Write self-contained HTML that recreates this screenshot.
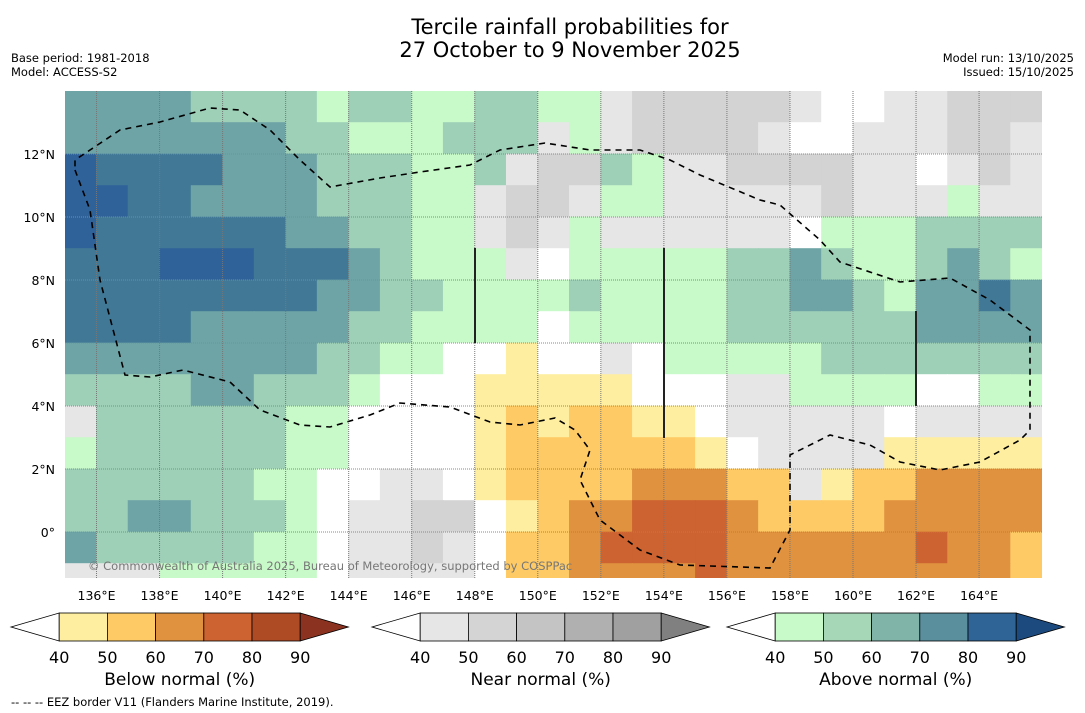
<!DOCTYPE html>
<html><head><meta charset="utf-8"><style>
html,body{margin:0;padding:0;background:#fff;}
svg{display:block;font-family:"DejaVu Sans","Liberation Sans",sans-serif;}
</style></head><body>
<svg id="chart" width="1085" height="713" viewBox="0 0 1085 713">
<rect x="0" y="0" width="1085" height="713" fill="#fff"/>
<text x="570" y="34" text-anchor="middle" font-size="21" fill="#000">Tercile rainfall probabilities for</text>
<text x="570" y="57" text-anchor="middle" font-size="21" fill="#000">27 October to 9 November 2025</text>
<text x="11" y="62" font-size="11.5">Base period: 1981-2018</text>
<text x="11" y="76" font-size="11.5">Model: ACCESS-S2</text>
<text x="1074" y="62" font-size="11.5" text-anchor="end">Model run: 13/10/2025</text>
<text x="1074" y="76" font-size="11.5" text-anchor="end">Issued: 15/10/2025</text>
<defs><clipPath id="mapclip"><rect x="65" y="91" width="977" height="487"/></clipPath></defs>
<g id="cells" clip-path="url(#mapclip)"></g>
<g id="grid" clip-path="url(#mapclip)"></g>
<g id="overlay" clip-path="url(#mapclip)">
<path d="M75,170 L90,210 L100,280 L125,375 L150,377 L183,370 L230,382 L260,410 L300,425 L330,427 L370,415 L400,403 L450,407 L490,422 L520,425 L555,418 L575,430 L590,450 L580,480 L600,520 L640,550 L680,565 L770,568 L790,530 L790,455 L830,435 L870,445 L900,462 L940,470 L980,462 L1020,440 L1030,430 L1030,330 L990,300 L950,278 L900,282 L840,262 L820,240 L780,205 L760,200 L700,175 L670,160 L640,150 L590,150 L545,143 L500,150 L470,165 L420,172 L380,178 L330,187 L300,160 L270,130 L240,110 L210,108 L160,122 L120,130 L75,160 Z" fill="none" stroke="#000" stroke-width="1.6" stroke-dasharray="6,5"/>
<line x1="475" y1="248" x2="475" y2="343" stroke="#222" stroke-width="2"/>
<line x1="664" y1="248" x2="664" y2="438" stroke="#222" stroke-width="2"/>
<line x1="916" y1="311" x2="916" y2="406" stroke="#222" stroke-width="2"/>
<text x="88" y="570" font-size="11.5" fill="#777">© Commonwealth of Australia 2025, Bureau of Meteorology, supported by COSPPac</text>
</g>
<g id="axes"></g>
<g id="bars"></g>
<text x="11" y="706" font-size="11.5">-- -- -- EEZ border V11 (Flanders Marine Institute, 2019).</text>
</svg>
<script>
const lonTicks = [136,138,140,142,144,146,148,150,152,154,156,158,160,162,164];
const latTicks = [12,10,8,6,4,2,0];
const latTickLabels = ["12°N","10°N","8°N","6°N","4°N","2°N","0°"];
const rowLats = [14,13,12,11,10,9,8,7,6,5,4,3,2,1,0,-1];
// categories per 1° cell, lon 135-143 / 144-149 / 150-165
const westRows = ["ccccbbbba","cccccccbb","eddddcccb","eeddccccb","eddddddcc","dddeeeddd","ddddddddc","ddddccccc","ccccccccb","bbbbccbbb","gbbbbbbaa","abbbbbbaa","bbbbbbaaw","bbccbbbaw","cbbbbbaaw","gggaaaaaw"];
const midRows = ["bbaabb","aaabbb","bbaabg","bbaagG","bbaagG","cbaaag","cbbaaa","bbaaaa","baawwy","awwwyy","wwwwyY","wwwwyY","wggwyY","ggGGwy","ggGgwY","ggggwY"];
const eastRows = ["aagGGGGGgwwggGGG","gagGGGGgwwgggGGg","GGbaggGGGGggwgGg","GgaagggggGgggagg","gaggggggwaaabbbb","waaaaabbcbaabcba","abaaaabbccbaccdc","waaaaabbbbbbcccc","wwgwaaaaabbbbbbb","yyywwwggaaaawwaa","yYYyywgggggwgggg","YYYYYywggggyyyyy","YYYoooYYgyYYoooo","YoorrroYYYYooooo","YorrrroooooorooY","YooooroooooooooY"];
const classKeys = ["w","y","Y","o","r","g","G","a","b","c","d","e"];
const classColors = ["#ffffff","#feeea0","#fdca66","#e0923f","#cc6330","#e6e6e6","#d3d3d3","#c8f9c8","#9ed0b8","#6ea4a6","#417896","#30629a"];
const belowColors = ["#feeea0","#fdca66","#e0923f","#cc6330","#ae4a24"];
const nearColors = ["#e6e6e6","#d4d4d4","#c4c4c4","#b0b0b0","#a0a0a0"];
const aboveColors = ["#c8f9c8","#a6d8b8","#80b4a8","#5a8f9e","#2f6496"];
const barLabels = ["40","50","60","70","80","90"];

const NS="http://www.w3.org/2000/svg";
function xOf(lon){return 65+(lon-135)*31.52;}
function yOf(lat){return 91+(14-lat)*31.5;}
function mk(tag,attrs,parent){const e=document.createElementNS(NS,tag);for(const k in attrs)e.setAttribute(k,attrs[k]);parent.appendChild(e);return e;}

const cells=document.getElementById('cells');
rowLats.forEach((lat,ri)=>{
  const row=westRows[ri]+midRows[ri]+eastRows[ri];
  for(let ci=0;ci<31;ci++){
    const ch=row[ci]||'w';
    const lon=135+ci;
    const col=classColors[classKeys.indexOf(ch)]||"#fff";
    const r=mk('rect',{x:xOf(lon)-0.3,y:yOf(lat)-0.3,width:xOf(lon+1)-xOf(lon)+0.6,height:yOf(lat-1)-yOf(lat)+0.6,fill:col},cells);
    
    
  }
});

const grid=document.getElementById('grid');
const axes=document.getElementById('axes');
lonTicks.forEach(l=>{
  const g=mk('line',{x1:xOf(l),x2:xOf(l),y1:91,y2:578,stroke:"#777","stroke-width":1,"stroke-dasharray":"1,1"},grid);
  
  
  const t=mk('text',{x:xOf(l),y:600,"text-anchor":"middle","font-size":12.5},axes);
  t.textContent=l+"°E";
  
  
});
latTicks.forEach((l,i)=>{
  const g=mk('line',{x1:65,x2:1042,y1:yOf(l),y2:yOf(l),stroke:"#888","stroke-width":1,"stroke-dasharray":"1,1"},grid);
  
  
  const t=mk('text',{x:55,y:yOf(l)+5,"text-anchor":"end","font-size":12.5},axes);
  t.textContent=latTickLabels[i];
  
  
});

const bars=document.getElementById('bars');
function colorbar(x0,colors,tip,title,name){
  const w=48.2, top=613, bot=641, mid=627;
  const g=mk('g',{},bars);
  
  
  mk('polygon',{points:`${x0},${mid} ${x0+w},${top} ${x0+w},${bot}`,fill:"#fff",stroke:"#000","stroke-width":0.8},g);
  colors.forEach((c,i)=>{
    const r=mk('rect',{x:x0+w*(i+1),y:top,width:w,height:bot-top,fill:c,stroke:"#000","stroke-width":0.8},g);
    
    
  });
  const xe=x0+w*6;
  mk('polygon',{points:`${xe},${top} ${xe+w},${mid} ${xe},${bot}`,fill:tip,stroke:"#000","stroke-width":0.8},g);
  barLabels.forEach((s,i)=>{
    const t=mk('text',{x:x0+w*(i+1),y:663,"text-anchor":"middle","font-size":16},g);
    t.textContent=s;
    
    
  });
  const tt=mk('text',{x:x0+w*3.5,y:685,"text-anchor":"middle","font-size":17},g);
  tt.textContent=title;
  
  
}
colorbar(11,belowColors,"#8b3220","Below normal (%)","below-normal-colorbar");
colorbar(372,nearColors,"#808080","Near normal (%)","near-normal-colorbar");
colorbar(727,aboveColors,"#1d4a7e","Above normal (%)","above-normal-colorbar");
</script>
</body></html>
